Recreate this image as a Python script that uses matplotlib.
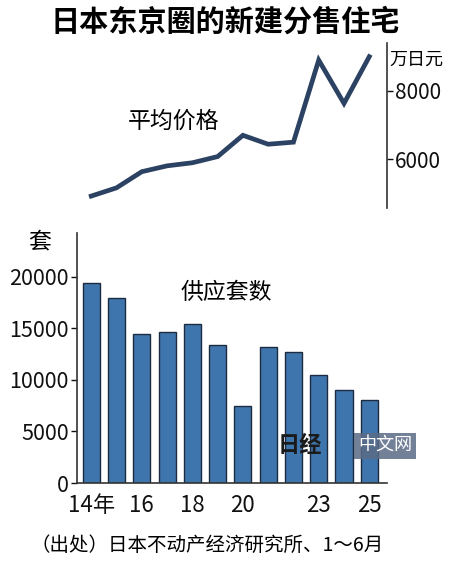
import numpy as np
import matplotlib.pyplot as plt

plt.rcParams['font.family'] = ['Noto Sans CJK SC', 'DejaVu Sans']

# data (first half of each year, 2014-2025)
years = np.arange(2014, 2026)
price = [4930, 5170, 5640, 5810, 5900, 6080, 6700, 6440, 6500, 8890, 7630, 8990]
units = [19400, 18000, 14440, 14690, 15470, 13400, 7450, 13230, 12690, 10490, 9030, 8030]
tick_idx = [0, 2, 4, 6, 9, 11]
tick_labels = ['14年', '16', '18', '20', '23', '25']

x = np.arange(len(years))
xlim = (-0.565, 11.69)

fig = plt.figure(figsize=(4.5, 5.69), dpi=100)
W, H = 450, 569

def box(l, t, r, b):
    return [l / W, 1 - b / H, (r - l) / W, (b - t) / H]

fig.text(0.5, 1 - 22 / H, '日本东京圈的新建分售住宅', ha='center', va='center',
         fontsize=21, fontweight='bold')

# top: average price
ax1 = fig.add_axes(box(77, 43, 386.7, 208))
ax1.plot(x, price, color='#2c4262', lw=3.4, solid_joinstyle='miter')
ax1.set_xlim(*xlim)
ax1.set_ylim(4582, 9389)
for s in ['top', 'left', 'bottom']:
    ax1.spines[s].set_visible(False)
ax1.spines['right'].set_color('#333333')
ax1.spines['right'].set_linewidth(1.2)
ax1.set_xticks([])
ax1.yaxis.tick_right()
ax1.set_yticks([6000, 8000])
ax1.tick_params(axis='y', length=4, width=1, labelsize=15, pad=2, colors='#111111')
ax1.text(3.25, 7100, '平均价格', ha='center', va='center', fontsize=16.5)
ax1.text(1.01, 0.9, '万日元', transform=ax1.transAxes, ha='left', va='center', fontsize=13)
ax1.patch.set_alpha(0)

# bottom: supply units
ax2 = fig.add_axes(box(77, 233, 386.7, 483))
ax2.bar(x, units, width=0.68, color='#3f75ad', edgecolor='#1c2b40', linewidth=1.0)
ax2.set_xlim(*xlim)
ax2.set_ylim(0, 24270)
for s in ['top', 'right']:
    ax2.spines[s].set_visible(False)
for s in ['left', 'bottom']:
    ax2.spines[s].set_color('#333333')
    ax2.spines[s].set_linewidth(1.2)
ax2.set_yticks([0, 5000, 10000, 15000, 20000])
ax2.tick_params(axis='y', length=4, width=1, labelsize=15.5, pad=2, colors='#111111')
ax2.set_xticks(tick_idx)
ax2.set_xticklabels(tick_labels)
ax2.tick_params(axis='x', length=0, labelsize=16, pad=8, colors='#111111')
ax2.text(5.36, 18450, '供应套数', ha='center', va='center', fontsize=16.5)
fig.text(40 / W, 1 - 242 / H, '套', ha='center', va='center', fontsize=16.5)

# watermark
fig.text(300 / W, 1 - 446 / H, '日经', ha='center', va='center', fontsize=16,
         fontweight='bold', color='#1a1a1a')
fig.text(385 / W, 1 - 446 / H, '中文网', ha='center', va='center', fontsize=13,
         color='white', bbox=dict(boxstyle='square,pad=0.2', fc='#5a6b86', ec='none', alpha=0.85))

fig.text(207 / W, 1 - 545 / H, '（出处）日本不动产经济研究所、1～6月', ha='center', va='center',
         fontsize=14)

fig.savefig('out.png', dpi=100, facecolor='white')
